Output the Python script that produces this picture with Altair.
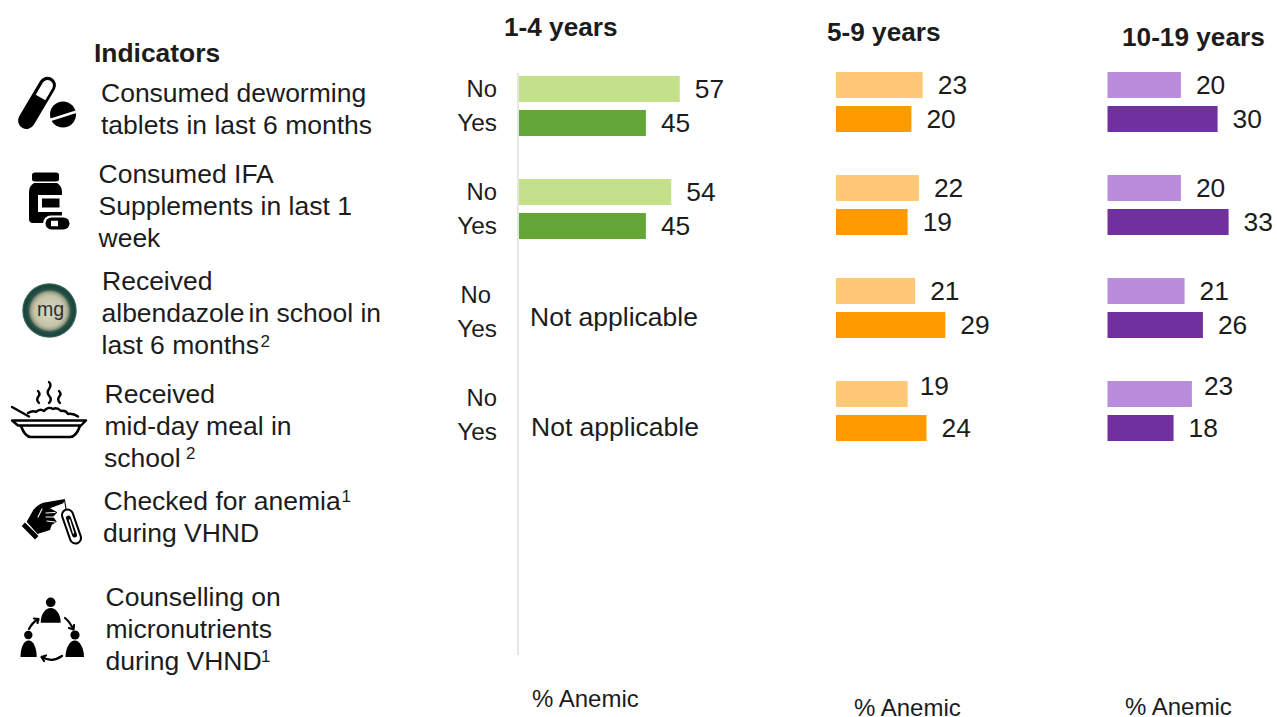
import altair as alt
import pandas as pd

FONT = "Liberation Sans"
INK = "#1c1c1c"

# Survey values: percentage anemic by indicator and response, per age group
indicators = ["Deworming", "IFA", "Albendazole", "Mid-day meal"]
responses = ["No", "Yes"]
age_1_4 = {"Deworming": [57, 45], "IFA": [54, 45]}
age_5_9 = {"Deworming": [23, 20], "IFA": [22, 19], "Albendazole": [21, 29], "Mid-day meal": [19, 24]}
age_10_19 = {"Deworming": [20, 30], "IFA": [20, 33], "Albendazole": [21, 26], "Mid-day meal": [23, 18]}

BLANK = alt.Data(values=[{}])


def table(series):
    rows = []
    for indicator, pair in series.items():
        for response, value in zip(responses, pair):
            rows.append({"indicator": indicator, "response": response, "value": value})
    return pd.DataFrame(rows)


def panel(series, left, per_unit, top, shades):
    """Paired horizontal bars and their value labels for one age group."""
    x = alt.X("value:Q", axis=None,
              scale=alt.Scale(domain=[0, 100], range=[left, left + 100 * per_unit]))
    y = alt.Y("indicator:N", axis=None, sort=indicators,
              scale=alt.Scale(domain=indicators, range=[top, top + 369],
                              paddingInner=0.4175, paddingOuter=0))
    offset = alt.YOffset("response:N", sort=responses,
                         scale=alt.Scale(domain=responses, paddingInner=0.235, paddingOuter=0))
    colour = alt.Color("response:N", legend=None,
                       scale=alt.Scale(domain=responses, range=shades))
    base = alt.Chart(table(series)).encode(x=x, y=y, yOffset=offset)
    bars = base.mark_bar(cornerRadius=0).encode(color=colour)
    text_style = dict(font=FONT, fontSize=26.4, color=INK, align="left", baseline="middle")
    # Labels of the mid-day meal "No" bars sit a little above their bars
    raised = (alt.datum.indicator == "Mid-day meal") & (alt.datum.response == "No")
    labels = base.transform_filter(~raised).mark_text(dx=15, dy=1, **text_style).encode(text="value:Q")
    lifted = base.transform_filter(raised).mark_text(dx=12, dy=-7, **text_style).encode(text="value:Q")
    return [bars, labels, lifted]


def label(text, x, y, size=26.5, weight="normal", align="left", colour=INK):
    return alt.Chart(BLANK).mark_text(
        text=text, font=FONT, fontSize=size, fontWeight=weight, color=colour,
        align=align, baseline="alphabetic",
    ).encode(x=alt.value(x), y=alt.value(y))


def fill(path, colour="#000000"):
    """Filled vector shape; size 4 keeps path units equal to screen pixels."""
    return alt.Chart(BLANK).mark_point(
        shape=path, size=4, filled=True, color=colour, opacity=1, strokeWidth=0,
    ).encode(x=alt.value(0), y=alt.value(0))


def line(path, width, colour="#000000", cap="round"):
    return alt.Chart(BLANK).mark_point(
        shape=path, size=4, filled=False, color=colour, opacity=1,
        strokeWidth=width, strokeCap=cap, strokeJoin="round",
    ).encode(x=alt.value(0), y=alt.value(0))


def disc(cx, cy, r, colour="#000000"):
    return alt.Chart(BLANK).mark_point(
        shape="circle", size=4 * r * r, filled=True, color=colour, opacity=1, strokeWidth=0,
    ).encode(x=alt.value(cx), y=alt.value(cy))


pill_icon = [
    line("M47.5,85.2 L26.5,120.5", 17),
    line("M47.5,85.5 L44,91.5", 11, "#ffffff"),
    line("M44,91.5 L40.5,97.5", 11, "#ffffff", "butt"),
    disc(63, 114.5, 13),
    line("M50,120 L76,111.7", 2.6, "#ffffff", "butt"),
]

bottle_icon = [
    fill("M35,172.5 H56 Q59,172.5 59,175 V179 Q59,181.5 56,181.5 H35 Q32,181.5 32,179 V175 Q32,172.5 35,172.5 Z"),
    fill("M34,183 H57 Q62,186 62,192 V219 Q62,223 58,223 H33 Q29,223 29,219 V192 Q29,186 34,183 Z"),
    fill("M38,195 H62 V212 H38 Z", "#ffffff"),
    fill("M42,198.5 H59.5 V207.5 H42 Z"),
    line("M51,223.5 H64", 16, "#ffffff"),
    line("M51.5,223.5 H63.5", 12),
    line("M51,223.5 H58", 5.5, "#ffffff", "butt"),
]

coin_icon = [
    alt.Chart(BLANK).mark_point(
        shape="circle", size=4 * 27.3 * 27.3, opacity=1, strokeWidth=0, filled=True,
        fill=alt.RadialGradient(
            gradient="radial", x1=0.5, y1=0.52, x2=0.5, y2=0.5, r1=0, r2=0.5,
            stops=[
                alt.GradientStop(offset=0, color="#d6d5c2"),
                alt.GradientStop(offset=0.55, color="#c6c5aa"),
                alt.GradientStop(offset=0.68, color="#9fa38a"),
                alt.GradientStop(offset=0.78, color="#2a5248"),
                alt.GradientStop(offset=0.93, color="#16433a"),
                alt.GradientStop(offset=1, color="#567c72"),
            ],
        ),
    ).encode(x=alt.value(49.5), y=alt.value(310.5)),
    label("mg", 37, 316, size=19.6, colour="#2f2f2f"),
]

bowl_icon = [
    line("M38,391 Q41,394 38,397 Q36,400 39,403", 2.4),
    line("M49,382 Q52,385 49,389 Q46,393 50,397 Q52,400 49,403", 2.4),
    line("M59,391 Q62,394 59,397 Q57,400 60,403", 2.4),
    line("M12,407 L29,416.5", 2.4),
    line("M28,413 Q33,410 36,412 Q40,408 44,411 Q48,406 53,409 Q57,407 61,411 Q66,410 68,414 Q73,413 78,416.5", 2.4),
    line("M12,420.5 H86 L81,425.5 H18 Z", 2.4),
    line("M21,426 Q25,437 31,437 H70 Q76,437 80,426", 2.6),
]

hand_icon = [
    fill("M21.7,526 L25,522.5 L38.5,536 L35,539.5 Z"),
    fill("M26.7,521.7 L33.3,510 Q37,505 43.3,502.7 L65,499 L63.3,503.3 L50,508.3 "
         "L57.3,512.3 L53.3,516.7 L56.7,521.7 L51.7,525 L50,530 L37.5,534 Z"),
    line("M42,509 L38,517", 1.1, "#ffffff"),
    line("M46,513 L55,512.5", 1.1, "#ffffff"),
    line("M46,517 L54,517", 1.1, "#ffffff"),
    line("M47,521 L55,522", 1.1, "#ffffff"),
    line("M64.5,500 L66,509", 1.1),
    line("M67.5,515 L75.5,538", 13),
    line("M67.5,515 L75.5,538", 9, "#ffffff"),
    line("M68.5,518 L74.5,535", 5),
    line("M69.5,520 L73.5,533", 1.4, "#ffffff"),
]


def person(cx, head_y, head_r, left, right, top, bottom):
    mid = (left + right) / 2
    return [
        disc(cx, head_y, head_r),
        fill(f"M{left},{bottom} C{left},{bottom - 9} {mid - 5},{top} {mid},{top} "
             f"C{mid + 5},{top} {right},{bottom - 9} {right},{bottom} Z"),
    ]


people_icon = (
    person(50.7, 602.3, 4.8, 40.7, 60.7, 608, 622.7)
    + person(28.3, 635, 4.2, 20.5, 36.7, 640.5, 657)
    + person(75, 635, 4.6, 65.5, 84, 640.5, 657)
    + [
        line("M29,629 Q32,623 38,619", 2.2),
        line("M34,618.5 L38.5,619 L37.5,623", 2.2),
        line("M65,618 Q70,622 73,629", 2.2),
        line("M69,628 L73.5,629.5 L74,625", 2.2),
        line("M62,656 Q52,663 42,657", 2.2),
        line("M46,655.5 L41.5,657 L44,661", 2.2),
    ]
)

left_text = [
    label("Indicators", 94, 62, size=26.4, weight="bold"),
    label("Consumed deworming", 101, 102),
    label("tablets in last 6 months", 101, 133.5),
    label("Consumed IFA", 98.5, 183),
    label("Supplements in last 1", 98.5, 215),
    label("week", 98.5, 247),
    label("Received", 102, 290),
    label("albendazole", 101.5, 322),
    label("in school in", 248.5, 322),
    label("last 6 months", 101.5, 354),
    label("2", 260.5, 347, size=17),
    label("Received", 104.5, 403),
    label("mid-day meal in", 104.5, 435),
    label("school", 104, 467),
    label("2", 186, 458.5, size=17),
    label("Checked for anemia", 103.5, 510),
    label("1", 341.5, 502, size=17),
    label("during VHND", 103, 542),
    label("Counselling on", 105.5, 606),
    label("micronutrients", 105.5, 638),
    label("during VHND", 105.5, 670),
    label("1", 261, 662, size=17),
]

headers = [
    label("1-4 years", 504, 36, size=26.2, weight="bold"),
    label("5-9 years", 827, 41, size=26.2, weight="bold"),
    label("10-19 years", 1122, 46, size=26.2, weight="bold"),
    label("% Anemic", 532, 707, size=24),
    label("% Anemic", 854, 716, size=24),
    label("% Anemic", 1125, 715, size=24),
]

response_labels = [
    label("No", 497, 97, size=23.8, align="right"),
    label("Yes", 497, 131, size=24.4, align="right"),
    label("No", 497, 200, size=23.8, align="right"),
    label("Yes", 497, 234, size=24.4, align="right"),
    label("No", 491, 303, size=23.8, align="right"),
    label("Yes", 497, 337, size=24.4, align="right"),
    label("No", 497, 406, size=23.8, align="right"),
    label("Yes", 497, 440, size=24.4, align="right"),
    label("Not applicable", 530, 326),
    label("Not applicable", 531, 436),
]

baseline_rule = alt.Chart(BLANK).mark_rule(color="#e6e6e2", strokeWidth=2).encode(
    x=alt.value(518), y=alt.value(73), y2=alt.value(655)
)

layers = (
    [baseline_rule]
    + panel(age_1_4, 519, 2.82, 76, ["#c5e08a", "#64a637"])
    + panel(age_5_9, 836, 3.77, 72, ["#ffc878", "#ff9a00"])
    + panel(age_10_19, 1107.5, 3.67, 72, ["#b98ddb", "#7030a0"])
    + response_labels + headers + left_text
    + pill_icon + bottle_icon + coin_icon + bowl_icon + hand_icon + people_icon
)

chart = (
    alt.layer(*layers)
    .resolve_scale(x="independent", y="independent", color="independent")
    .properties(width=1277, height=717, padding=0, autosize="none", background="#ffffff")
    .configure_view(stroke=None)
)

chart.save("out.html", embed_options={"renderer": "svg", "actions": False})
